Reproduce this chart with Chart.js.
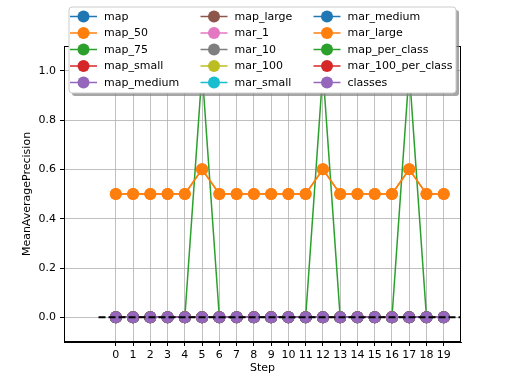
<!DOCTYPE html>
<html>
<head>
<meta charset="utf-8">
<script src="https://cdn.jsdelivr.net/npm/chart.js@4"></script>
<style>
html,body{margin:0;padding:0;background:#fff;}
#wrap{width:512px;height:384px;position:relative;}
</style>
</head>
<body>
<div id="wrap"><canvas id="c" width="512" height="384"></canvas></div>
<script>
const steps = [0,1,2,3,4,5,6,7,8,9,10,11,12,13,14,15,16,17,18,19];
const seriesNames = ['map','map_50','map_75','map_small','map_medium','map_large','mar_1','mar_10','mar_100','mar_small','mar_medium','mar_large','map_per_class','mar_100_per_class','classes'];
const zeros = [0,0,0,0,0,0,0,0,0,0,0,0,0,0,0,0,0,0,0,0];
const map_50 = [0.5,0.5,0.5,0.5,0.5,0.6,0.5,0.5,0.5,0.5,0.5,0.5,0.6,0.5,0.5,0.5,0.5,0.6,0.5,0.5];
const map_75 = [0,0,0,0,0,1.0,0,0,0,0,0,0,1.0,0,0,0,0,1.0,0,0];
const mar_large = [0.5,0.5,0.5,0.5,0.5,0.6,0.5,0.5,0.5,0.5,0.5,0.5,0.6,0.5,0.5,0.5,0.5,0.6,0.5,0.5];
const seriesValues = {
  map: zeros, map_50: map_50, map_75: map_75, map_small: zeros, map_medium: zeros,
  map_large: zeros, mar_1: zeros, mar_10: zeros, mar_100: zeros, mar_small: zeros,
  mar_medium: zeros, mar_large: mar_large, map_per_class: zeros, mar_100_per_class: zeros, classes: zeros
};
const refLineX = [-1, 20];
const refLineY = [0, 0];
const xTicks = steps;
const yTicks = [0.0,0.2,0.4,0.6,0.8,1.0];
const palette = ['#1f77b4','#ff7f0e','#2ca02c','#d62728','#9467bd','#8c564b','#e377c2','#7f7f7f','#bcbd22','#17becf'];

const FONT = 'DejaVu Sans';

const datasets = seriesNames.map((name, i) => {
  const col = palette[i % palette.length];
  return {
    label: name,
    data: steps.map((s, k) => ({x: s, y: seriesValues[name][k]})),
    borderColor: col,
    backgroundColor: col,
    pointBackgroundColor: col,
    pointBorderWidth: 0,
    pointRadius: 6,
    pointHoverRadius: 6,
    borderWidth: 1.5,
    tension: 0,
    order: -i,
    inLegend: true
  };
});
datasets.push({
  label: '_ref',
  data: refLineX.map((x, k) => ({x: x, y: refLineY[k]})),
  borderColor: '#000',
  borderWidth: 2,
  borderDash: [7, 3],
  pointRadius: 0,
  order: -100,
  inLegend: false
});

const spinesPlugin = {
  id: 'spines',
  afterDatasetsDraw(chart) {
    const a = chart.chartArea, ctx = chart.ctx;
    ctx.save();
    ctx.strokeStyle = '#000';
    ctx.lineWidth = 1;
    ctx.strokeRect(Math.round(a.left) + 0.5, Math.round(a.top) + 0.5, Math.round(a.right - a.left) - 1, Math.round(a.bottom - a.top) - 1);
    ctx.restore();
  }
};

function roundRect(ctx, x, y, w, h, r) {
  ctx.beginPath();
  ctx.moveTo(x + r, y);
  ctx.lineTo(x + w - r, y);
  ctx.quadraticCurveTo(x + w, y, x + w, y + r);
  ctx.lineTo(x + w, y + h - r);
  ctx.quadraticCurveTo(x + w, y + h, x + w - r, y + h);
  ctx.lineTo(x + r, y + h);
  ctx.quadraticCurveTo(x, y + h, x, y + h - r);
  ctx.lineTo(x, y + r);
  ctx.quadraticCurveTo(x, y, x + r, y);
  ctx.closePath();
}

const legendPlugin = {
  id: 'mplLegend',
  afterDraw(chart) {
    const ctx = chart.ctx;
    const items = chart.data.datasets.filter(d => d.inLegend);
    const bx = 69, by = 7, bw = 387, bh = 86;
    ctx.save();
    // shadow
    roundRect(ctx, bx + 3, by + 3, bw, bh, 3);
    ctx.fillStyle = 'rgba(128,128,128,0.7)';
    ctx.fill();
    roundRect(ctx, bx, by, bw, bh, 3);
    ctx.fillStyle = '#ffffff';
    ctx.fill();
    ctx.strokeStyle = '#cccccc';
    ctx.lineWidth = 1;
    ctx.stroke();
    const colX = [83.5, 214, 327];
    const rowY0 = 16.5, rowDy = 16.5;
    ctx.font = '11px "' + FONT + '"';
    ctx.textBaseline = 'middle';
    ctx.textAlign = 'left';
    items.forEach((d, i) => {
      const c = Math.floor(i / 5), r = i % 5;
      const cx = colX[c], cy = rowY0 + r * rowDy;
      ctx.strokeStyle = d.borderColor;
      ctx.lineWidth = 1.5;
      ctx.beginPath();
      ctx.moveTo(cx - 13.5, cy);
      ctx.lineTo(cx + 13.5, cy);
      ctx.stroke();
      ctx.fillStyle = d.borderColor;
      ctx.beginPath();
      ctx.arc(cx, cy, 6, 0, Math.PI * 2);
      ctx.fill();
      ctx.fillStyle = '#000';
      ctx.fillText(d.label, cx + 20.5, cy + 0.5);
    });
    ctx.restore();
  }
};

new Chart(document.getElementById('c'), {
  type: 'line',
  data: { datasets: datasets },
  options: {
    responsive: false,
    animation: false,
    devicePixelRatio: 1,
    layout: { padding: { left: 0, top: 46, right: 51, bottom: 0 } },
    plugins: { legend: { display: false }, tooltip: { enabled: false } },
    elements: { line: { fill: false } },
    scales: {
      x: {
        type: 'linear',
        min: -3, max: 20,
        afterBuildTicks(scale) { scale.ticks = xTicks.map(v => ({value: v})); },
        afterFit(scale) { scale.height = 42; },
        ticks: {
          autoSkip: false, maxRotation: 0, padding: 3, color: '#000',
          font: { family: FONT, size: 11 },
          callback: v => String(v)
        },
        grid: { color: '#b0b0b0', lineWidth: 0.8, tickColor: '#000', tickLength: 4, tickWidth: 1 },
        border: { display: true, color: '#000', width: 1 },
        title: { display: true, text: 'Step', color: '#000', font: { family: FONT, size: 11 }, padding: { top: 0, bottom: 9.5 } }
      },
      y: {
        type: 'linear',
        min: -0.1, max: 1.1,
        afterBuildTicks(scale) { scale.ticks = yTicks.map(v => ({value: v})); },
        afterFit(scale) { scale.width = 64; },
        ticks: {
          padding: 4, color: '#000',
          font: { family: FONT, size: 11 },
          callback: v => v.toFixed(1)
        },
        grid: { color: '#b0b0b0', lineWidth: 0.8, tickColor: '#000', tickLength: 4, tickWidth: 1 },
        border: { display: true, color: '#000', width: 1 },
        title: { display: true, text: 'MeanAveragePrecision', color: '#000', font: { family: FONT, size: 11 }, padding: { top: 21, bottom: 0 } }
      }
    }
  },
  plugins: [spinesPlugin, legendPlugin]
});
</script>
</body>
</html>
